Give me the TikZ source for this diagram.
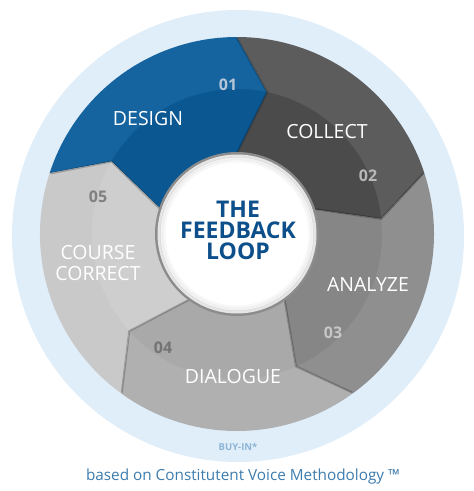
\documentclass[tikz,border=0pt]{standalone}
\usepackage{fontspec}
\setmainfont{Open Sans}
\usetikzlibrary{calc}
\definecolor{ringblue}{HTML}{E0EEFA}
\definecolor{designout}{HTML}{16649F}
\definecolor{designin}{HTML}{0A5792}
\definecolor{collectout}{HTML}{5C5C5C}
\definecolor{collectin}{HTML}{4B4B4B}
\definecolor{analyzeout}{HTML}{8F8F8F}
\definecolor{analyzein}{HTML}{868686}
\definecolor{dialogout}{HTML}{B0B0B0}
\definecolor{dialogin}{HTML}{A9A9A9}
\definecolor{courseout}{HTML}{C9C9C9}
\definecolor{coursein}{HTML}{CECECE}
\definecolor{titleblue}{HTML}{0D4F8B}
\definecolor{footblue}{HTML}{3D7CAE}
\definecolor{buyblue}{HTML}{8CB4D6}
\definecolor{numblue}{HTML}{B4C6D8}
\newcommand\segpath[2]{(#1:197) arc[start angle=#1, end angle=#2, radius=197] -- (#2-12:145) -- (#2:80) arc[start angle=#2, end angle=#1, radius=80] -- (#1-12:145) -- cycle}
\newcommand\segment[4]{%
  \fill[#3] \segpath{#1}{#2};
  \begin{scope}
    \clip \segpath{#1}{#2};
    \fill[#4] (0,0) circle (145);
  \end{scope}}
\tikzset{
  steplabel/.style={text=white, font=\fontsize{19.5}{21}\selectfont, align=center, inner sep=0pt},
  stepnum/.style={font=\bfseries\fontsize{16}{16}\selectfont, inner sep=0pt},
  edgeshadow/.style={draw=black, opacity=.22, line width=2pt, line join=round}
}
\begin{document}
\begin{tikzpicture}[x=1pt,y=1pt]
\useasboundingbox (-237,-257) rectangle (237,234);
\fill[white] (-237,-257) rectangle (237,234);
% outer light ring
\fill[ringblue] (1,-2) circle (226);
% segments
\segment{162}{90}{designout}{designin}
\segment{90}{18}{collectout}{collectin}
\segment{18}{-54}{analyzeout}{analyzein}
\segment{-54}{-126}{dialogout}{dialogin}
\segment{-126}{-198}{courseout}{coursein}
% boundary shadows
\foreach \b in {90,18,-54,-126,162}{
  \draw[edgeshadow] (\b:196) -- (\b-12:145) -- (\b:81);
}
% central circle
\fill[black!45] (0,0) circle (82);
\fill[white] (0,0) circle (79.5);
\draw[black, opacity=.10, line width=3pt] (0,0) circle (78);
\draw[black, opacity=.05, line width=3pt] (0,0) circle (75.5);
\draw[black, opacity=.03, line width=3pt] (0,0) circle (73);
% title
\node[text=titleblue, font=\bfseries\fontsize{23}{21}\selectfont, align=center, inner sep=0pt] (title) at (1,4) {THE\\FEEDBACK\\LOOP};
% labels
\node[steplabel] (design) at (-89,115) {DESIGN};
\node[steplabel] (collect) at (90,102) {COLLECT};
\node[steplabel] (analyze) at (131,-51) {ANALYZE};
\node[steplabel] (dialogue) at (-4,-143) {DIALOGUE};
\node[steplabel] (course) at (-139,-29) {COURSE\\CORRECT};
% numbers
\node[stepnum, text=numblue] (n1) at (-9,149) {01};
\node[stepnum, text=black!28] (n2) at (131,58) {02};
\node[stepnum, text=black!22] (n3) at (96,-99) {03};
\node[stepnum, text=black!55] (n4) at (-74,-114) {04};
\node[stepnum, text=black!50] (n5) at (-139,37) {05};
% bottom texts
\node[text=buyblue, font=\bfseries\fontsize{9.5}{10}\selectfont, inner sep=0pt] (buyin) at (1,-213) {BUY-IN*};
\node[text=footblue, font=\fontsize{15.3}{16}\selectfont, inner sep=0pt] (foot) at (6,-243) {based on Constitutent Voice Methodology ™};
\end{tikzpicture}
\end{document}
